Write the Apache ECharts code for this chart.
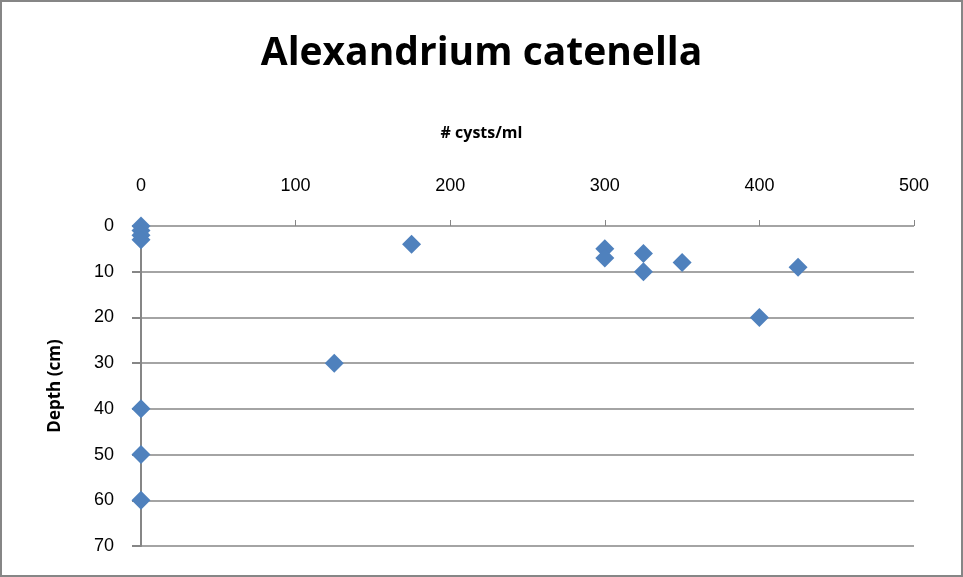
<!DOCTYPE html>
<html><head><meta charset="utf-8">
<script src="https://cdn.jsdelivr.net/npm/echarts@6/dist/echarts.min.js"></script>
<style>html,body{margin:0;padding:0;background:#fff}
#c{width:963px;height:577px;box-sizing:border-box;border:2px solid #868686}</style>
</head><body><div id="c"></div>
<script>
const cysts = [0, 0, 0, 0, 175, 300, 300, 325, 325, 350, 425, 400, 125, 0, 0, 0];
const depth = [0, 1, 2, 3, 4, 5, 7, 6, 10, 8, 9, 20, 30, 40, 50, 60];
const xTicks = [0, 100, 200, 300, 400, 500];
const yTicks = [0, 10, 20, 30, 40, 50, 60, 70];
const points = cysts.map((v, i) => [v, depth[i]]);
const chart = echarts.init(document.getElementById('c'));
const font = 'Liberation Sans, Arial, sans-serif';
chart.setOption({
  animation: false,
  title: {text: 'Alexandrium catenella', left: 'center', top: 27,
    textStyle: {fontFamily: 'Open Sans, Lato, sans-serif', fontSize: 39, fontWeight: 'bold', color: '#000'}},
  graphic: [{type: 'text', left: 'center', top: 123,
    style: {text: '# cysts/ml', fontFamily: 'Open Sans, sans-serif', fontSize: 16, fontWeight: 'bold', fill: '#000'}}],
  grid: {left: 139, right: 47, top: 224, bottom: 29},
  xAxis: {type: 'value', position: 'top', min: xTicks[0], max: xTicks[xTicks.length-1], interval: 100,
    axisLine: {show: false},
    axisTick: {show: true, length: 6, lineStyle: {color: '#868686'}},
    axisLabel: {margin: 31, fontFamily: font, fontSize: 18, color: '#000'},
    splitLine: {show: false}},
  yAxis: {type: 'value', inverse: true, min: yTicks[0], max: yTicks[yTicks.length-1], interval: 10,
    name: 'Depth (cm)', nameLocation: 'middle', nameGap: 77,
    nameTextStyle: {fontFamily: 'Open Sans, sans-serif', fontSize: 17, fontWeight: 'bold', color: '#000'},
    axisLine: {show: true, lineStyle: {color: '#868686', width: 2}},
    axisTick: {show: true, length: 9, lineStyle: {color: '#868686', width: 2}},
    axisLabel: {margin: 27, fontFamily: font, fontSize: 18, color: '#000'},
    splitLine: {show: true, lineStyle: {color: '#868686', width: 1.5}}},
  series: [{type: 'scatter', data: points, symbol: 'diamond', symbolSize: 19,
    itemStyle: {color: '#4F81BD', opacity: 1}}]
});
</script></body></html>
